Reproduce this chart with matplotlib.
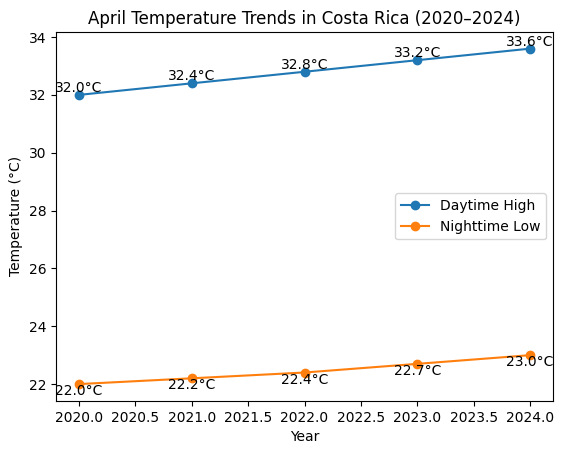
import matplotlib
matplotlib.use("Agg")
import matplotlib.pyplot as plt

years = [2020, 2021, 2022, 2023, 2024]
day_high = [32.0, 32.4, 32.8, 33.2, 33.6]
night_low = [22.0, 22.2, 22.4, 22.7, 23.0]

fig, ax = plt.subplots(figsize=(5.64, 4.55), dpi=100)
fig.subplots_adjust(left=0.100, right=0.980, top=0.930, bottom=0.119)

ax.plot(years, day_high, marker='o', label='Daytime High')
ax.plot(years, night_low, marker='o', label='Nighttime Low')

for x, y in zip(years, day_high):
    ax.text(x, y, f"{y:.1f}°C", ha='center', va='bottom')
for x, y in zip(years, night_low):
    ax.text(x, y, f"{y:.1f}°C", ha='center', va='top')

ax.set_title("April Temperature Trends in Costa Rica (2020–2024)")
ax.set_xlabel("Year")
ax.set_ylabel("Temperature (°C)")
ax.legend(loc='center right')

fig.savefig("out.png", dpi=100)
